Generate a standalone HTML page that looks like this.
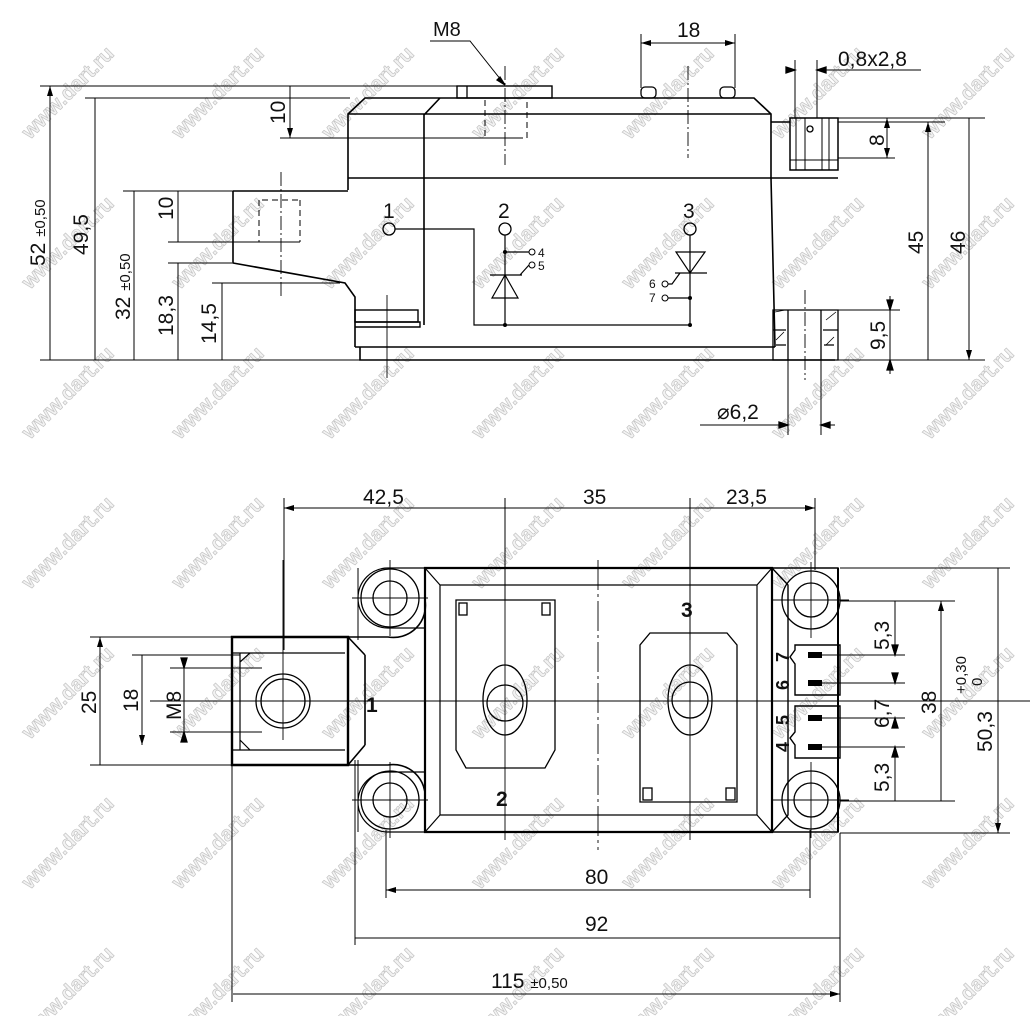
<!DOCTYPE html>
<html><head><meta charset="utf-8"><style>
html,body{margin:0;padding:0;background:#fff;}
svg{display:block;}
text{font-family:"Liberation Sans",sans-serif;fill:#111;}
.wm text{font-size:21px;fill:#f2f2f2;stroke:#c4c4c4;stroke-width:0.7;font-weight:bold;}
</style></head><body>
<svg width="1030" height="1016" viewBox="0 0 1030 1016" xmlns="http://www.w3.org/2000/svg">
<defs>
<marker id="a" viewBox="0 0 10 6" refX="10" refY="3" markerWidth="10" markerHeight="6" orient="auto-start-reverse" markerUnits="userSpaceOnUse"><path d="M0,0 L10,3 L0,6 z" fill="#000"/></marker>
</defs>
<!-- watermarks -->
<g class="wm">
<text transform="translate(30,140) rotate(-45)">www.dart.ru</text>
<text transform="translate(180,140) rotate(-45)">www.dart.ru</text>
<text transform="translate(330,140) rotate(-45)">www.dart.ru</text>
<text transform="translate(480,140) rotate(-45)">www.dart.ru</text>
<text transform="translate(630,140) rotate(-45)">www.dart.ru</text>
<text transform="translate(780,140) rotate(-45)">www.dart.ru</text>
<text transform="translate(930,140) rotate(-45)">www.dart.ru</text>
<text transform="translate(30,290) rotate(-45)">www.dart.ru</text>
<text transform="translate(180,290) rotate(-45)">www.dart.ru</text>
<text transform="translate(330,290) rotate(-45)">www.dart.ru</text>
<text transform="translate(480,290) rotate(-45)">www.dart.ru</text>
<text transform="translate(630,290) rotate(-45)">www.dart.ru</text>
<text transform="translate(780,290) rotate(-45)">www.dart.ru</text>
<text transform="translate(930,290) rotate(-45)">www.dart.ru</text>
<text transform="translate(30,440) rotate(-45)">www.dart.ru</text>
<text transform="translate(180,440) rotate(-45)">www.dart.ru</text>
<text transform="translate(330,440) rotate(-45)">www.dart.ru</text>
<text transform="translate(480,440) rotate(-45)">www.dart.ru</text>
<text transform="translate(630,440) rotate(-45)">www.dart.ru</text>
<text transform="translate(780,440) rotate(-45)">www.dart.ru</text>
<text transform="translate(930,440) rotate(-45)">www.dart.ru</text>
<text transform="translate(30,590) rotate(-45)">www.dart.ru</text>
<text transform="translate(180,590) rotate(-45)">www.dart.ru</text>
<text transform="translate(330,590) rotate(-45)">www.dart.ru</text>
<text transform="translate(480,590) rotate(-45)">www.dart.ru</text>
<text transform="translate(630,590) rotate(-45)">www.dart.ru</text>
<text transform="translate(780,590) rotate(-45)">www.dart.ru</text>
<text transform="translate(930,590) rotate(-45)">www.dart.ru</text>
<text transform="translate(30,740) rotate(-45)">www.dart.ru</text>
<text transform="translate(180,740) rotate(-45)">www.dart.ru</text>
<text transform="translate(330,740) rotate(-45)">www.dart.ru</text>
<text transform="translate(480,740) rotate(-45)">www.dart.ru</text>
<text transform="translate(630,740) rotate(-45)">www.dart.ru</text>
<text transform="translate(780,740) rotate(-45)">www.dart.ru</text>
<text transform="translate(930,740) rotate(-45)">www.dart.ru</text>
<text transform="translate(30,890) rotate(-45)">www.dart.ru</text>
<text transform="translate(180,890) rotate(-45)">www.dart.ru</text>
<text transform="translate(330,890) rotate(-45)">www.dart.ru</text>
<text transform="translate(480,890) rotate(-45)">www.dart.ru</text>
<text transform="translate(630,890) rotate(-45)">www.dart.ru</text>
<text transform="translate(780,890) rotate(-45)">www.dart.ru</text>
<text transform="translate(930,890) rotate(-45)">www.dart.ru</text>
<text transform="translate(30,1040) rotate(-45)">www.dart.ru</text>
<text transform="translate(180,1040) rotate(-45)">www.dart.ru</text>
<text transform="translate(330,1040) rotate(-45)">www.dart.ru</text>
<text transform="translate(480,1040) rotate(-45)">www.dart.ru</text>
<text transform="translate(630,1040) rotate(-45)">www.dart.ru</text>
<text transform="translate(780,1040) rotate(-45)">www.dart.ru</text>
<text transform="translate(930,1040) rotate(-45)">www.dart.ru</text>
</g>

<g fill="none" stroke="#000" stroke-width="1.3">
<!-- ===== TOP VIEW ===== -->
<path d="M40,86H520 M85,98H350 M280,138H520 M123,191H233 M168,242H300 M168,263H232 M212,283H340 M40,360H370" stroke-width="1"/>
<path d="M50,86V360 M95,98V360 M134,191V360 M178,263V360 M222,283V360 M178,191V242 M290,86V138" marker-start="url(#a)" marker-end="url(#a)" stroke-width="1"/>
<path d="M348,190V114L365,98H754L771,114V178 M348,114H771 M424,325V115L440,98" stroke-width="1.6"/>
<path d="M348,178H838 M233,191H348 M233,191V263L345,283L355,297V347 M355,347H775 M360,347V360H835 M771,178L775,347" stroke-width="1.6"/>
<rect x="355" y="310" width="63" height="12" stroke-width="1.4"/>
<path d="M355,322H420V327H355" stroke-width="1.4"/>
<path d="M259,200V242 M300,200V242 M262,200H300 M262,242H300" stroke-dasharray="6,4" stroke-width="1"/>
<path d="M281,172V298" stroke-dasharray="14,3,2,3" stroke-width="0.9"/>
<path d="M387,295V378" stroke-width="0.9"/>
<rect x="457" y="86" width="95" height="12" stroke-width="1.4"/>
<path d="M467,86V98" />
<path d="M485,100V138H527V100" stroke-dasharray="6,4" stroke-width="1"/>
<path d="M505,66V165" stroke-dasharray="14,3,2,3" stroke-width="0.9"/>
<path d="M430,41H470L505,85" stroke-width="1"/>
<path d="M505,85l-8,-5 3,-3z" fill="#000"/>
<rect x="641" y="87" width="15" height="11" rx="4"/>
<rect x="720" y="87" width="15" height="11" rx="4"/>
<path d="M688,66V158" stroke-dasharray="14,3,2,3" stroke-width="0.9"/>
<path d="M641,34V88 M735,34V88" stroke-width="1"/>
<path d="M641,43H735" marker-start="url(#a)" marker-end="url(#a)" stroke-width="1"/>
<path d="M771,122H790 M790,118H838V170H790Z" stroke-width="1.5"/>
<path d="M796,118V170 M805,118V170 M822,118V170 M829,118V170 M790,160H838" stroke-width="1"/>
<circle cx="810" cy="129" r="3"/>
<path d="M795,60V118 M817,60V118" stroke-width="1"/>
<path d="M790,70H795 M817,70H921" stroke-width="1"/>
<path d="M795,70l-9,-3v6z M817,70l9,-3v6z" fill="#000"/>
<path d="M773,310H838V360H773Z M788,310V360 M821,310V360 M773,330H786 M823,330H838 M776,345H786 M824,345H834" stroke-width="1.3"/>
<path d="M775,312l10,-2 M826,320l10,-8 M776,340l8,-8 M826,345l8,-8" stroke-width="0.8"/>
<path d="M805,290V380" stroke-dasharray="14,3,2,3" stroke-width="0.9"/>
<path d="M788,360V435 M821,360V435" stroke-width="1"/>
<path d="M700,425H788 M821,425H835" stroke-width="1"/>
<path d="M788,425l-9,-3v6z M821,425l9,-3v6z" fill="#000"/>
<path d="M838,118H985 M838,158H895 M838,122H945 M838,310H900 M835,360H985" stroke-width="1"/>
<path d="M887,118V158" marker-start="url(#a)" marker-end="url(#a)" stroke-width="1"/>
<path d="M928,122V360 M969,118V360" marker-start="url(#a)" marker-end="url(#a)" stroke-width="1"/>
<path d="M890,296V374" stroke-width="1"/>
<path d="M890,310l-3,-10h6z M890,360l-3,10h6z" fill="#000"/>
<circle cx="389" cy="229" r="6"/>
<path d="M395,229H474V325H691" stroke-width="1.2"/>
<circle cx="505" cy="229" r="6"/>
<path d="M505,235V325 M505,252H529" stroke-width="1.2"/>
<circle cx="532" cy="252" r="3" stroke-width="1"/>
<circle cx="532" cy="265" r="3" stroke-width="1"/>
<path d="M520,275L529,265 M490,275H522 M505,275L492,298H518Z" stroke-width="1.2"/>
<circle cx="690" cy="229" r="6"/>
<path d="M690,235V325 M676,252H705L690,273Z M675,273H707 M680,273L672,284H668 M668,298H690" stroke-width="1.2"/>
<circle cx="665" cy="284" r="3" stroke-width="1"/>
<circle cx="665" cy="298" r="3" stroke-width="1"/>
</g>
<g fill="#000">
<circle cx="505" cy="252" r="2"/><circle cx="505" cy="325" r="2"/><circle cx="690" cy="325" r="2"/><circle cx="690" cy="298" r="2"/>
</g>
<g font-size="21">
<text x="433" y="36" font-size="20">M8</text>
<text x="677" y="37">18</text>
<text x="838" y="66">0,8x2,8</text>
<text x="383" y="218">1</text>
<text x="498" y="218">2</text>
<text x="683" y="218">3</text>
<text x="717" y="419">⌀6,2</text>
<text transform="translate(45,266) rotate(-90)">52 <tspan font-size="15">±0,50</tspan></text>
<text transform="translate(88,255) rotate(-90)">49,5</text>
<text transform="translate(130,320) rotate(-90)">32 <tspan font-size="15">±0,50</tspan></text>
<text transform="translate(173,220) rotate(-90)">10</text>
<text transform="translate(285,124) rotate(-90)">10</text>
<text transform="translate(173,336) rotate(-90)">18,3</text>
<text transform="translate(216,344) rotate(-90)">14,5</text>
<text transform="translate(884,146) rotate(-90)">8</text>
<text transform="translate(923,254) rotate(-90)">45</text>
<text transform="translate(965,254) rotate(-90)">46</text>
<text transform="translate(885,350) rotate(-90)">9,5</text>
</g>
<g font-size="12"><text x="538" y="257">4</text><text x="538" y="270">5</text><text x="649" y="288">6</text><text x="649" y="302">7</text></g>

<!-- ===== BOTTOM VIEW ===== -->
<g fill="none" stroke="#000" stroke-width="1.3">
<path d="M284,498V650 M505,498V600 M690,498V640 M815,498V570" stroke-width="1"/>
<path d="M284,508H505 M505,508H690 M690,508H815" marker-start="url(#a)" marker-end="url(#a)" stroke-width="1"/>
<path d="M425,568H772V832H425Z" stroke-width="2.2"/>
<path d="M440,585H757V815H440Z M425,568L440,585 M772,568L757,585 M425,832L440,815 M772,832L757,815" stroke-width="1.2"/>
<path d="M425,568H388A30,30 0 0 0 358,598A30,30 0 0 0 388,628H425 M425,568V640" stroke-width="1.2"/>
<path d="M425,832H388A30,30 0 0 1 358,802A30,30 0 0 1 388,772H425" stroke-width="1.2"/>
<path d="M348,637H388A32,32 0 0 0 425,600 M348,765H388A32,32 0 0 1 425,800 M348,637V765 M365,655V745 M348,637L365,655 M348,765L365,745" stroke-width="1.6"/>
<path d="M358,568V640 M358,760V832" stroke-width="1"/>
<path d="M772,568H838V832H772 M772,568L788,585V815L772,832" stroke-width="1.4"/>
<path d="M838,568V832" stroke-width="2"/>
<circle cx="390" cy="598" r="29"/><circle cx="390" cy="598" r="17"/>
<circle cx="390" cy="800" r="29"/><circle cx="390" cy="800" r="17"/>
<circle cx="811" cy="600" r="29"/><circle cx="811" cy="600" r="17"/>
<circle cx="811" cy="800" r="29"/><circle cx="811" cy="800" r="17"/>
<path d="M352,598H428 M390,560V636 M352,800H428 M390,762V838 M773,600H849 M811,562V638 M773,800H849 M811,762V838" stroke-width="0.9"/>
<path d="M795,645H840V695H795V664L790,657L795,650Z" stroke-width="1.4"/>
<path d="M795,706H840V758H795V745L790,738L795,732Z" stroke-width="1.4"/>
<path d="M232,637H348V765H232Z" stroke-width="2.4"/>
<path d="M232,653H345 M232,750H345 M240,653V750 M240,662L250,653 M240,740L250,750" stroke-width="1.2"/>
<circle cx="283" cy="701" r="27"/><circle cx="283" cy="701" r="22"/>
<path d="M283,560V740 M150,701H1030" stroke-width="0.9"/>
<path d="M456,600H555V750L545,768H466L456,750Z" stroke-width="1.3"/>
<rect x="459" y="603" width="8" height="12"/><rect x="542" y="603" width="8" height="12"/>
<ellipse cx="505" cy="700" rx="22" ry="35"/><circle cx="505" cy="703" r="18"/>
<path d="M505,520V840" stroke-width="0.9"/>
<path d="M650,633H727L737,645V802H640V645Z" stroke-width="1.3"/>
<rect x="643" y="788" width="9" height="12"/><rect x="726" y="788" width="9" height="12"/>
<ellipse cx="690" cy="700" rx="22" ry="35"/><circle cx="690" cy="700" r="18"/>
<path d="M690,520V840" stroke-width="0.9"/>
<path d="M598,560V850" stroke-dasharray="30,4,3,4" stroke-width="0.9"/>
<path d="M90,637H232 M132,655H240 M170,668H262 M170,732H262 M90,765H232" stroke-width="1"/>
<path d="M100,637V765 M142,655V745" marker-start="url(#a)" marker-end="url(#a)" stroke-width="1"/>
<path d="M184,658V742" stroke-width="1"/>
<path d="M184,668l-3,-10h6z M184,732l-3,10h6z" fill="#000"/>
<path d="M840,568H1010 M840,601H955 M813,655H905 M813,683H905 M813,718H905 M813,747H905 M840,801H955 M840,833H1010" stroke-width="1"/>
<path d="M895,601V655 M895,747V801" stroke-width="1"/>
<path d="M895,655l-3,-10h6z M895,683l-3,-10h6z M895,718l-3,10h6z M895,747l-3,10h6z" fill="#000"/>
<path d="M941,601V801 M998,568V833" marker-start="url(#a)" marker-end="url(#a)" stroke-width="1"/>
<path d="M232,765V1002 M355,760V945 M386,830V898 M810,830V898 M840,833V1002" stroke-width="1"/>
<path d="M386,890H810 M355,938H840 M233,994H840" marker-start="url(#a)" marker-end="url(#a)" stroke-width="1"/>
</g>
<g fill="#000"><rect x="808" y="652" width="14" height="6"/><rect x="808" y="680" width="14" height="6"/><rect x="808" y="715" width="14" height="6"/><rect x="808" y="744" width="14" height="6"/></g>
<g font-size="21">
<text x="363" y="504">42,5</text>
<text x="583" y="504">35</text>
<text x="726" y="504">23,5</text>
<text x="585" y="884">80</text>
<text x="585" y="931">92</text>
<text x="491" y="988">115 <tspan font-size="15">±0,50</tspan></text>
<text x="366" y="712" font-weight="bold">1</text>
<text x="496" y="806" font-weight="bold">2</text>
<text x="681" y="617" font-weight="bold">3</text>
<text transform="translate(96,714) rotate(-90)">25</text>
<text transform="translate(138,712) rotate(-90)">18</text>
<text transform="translate(181,720) rotate(-90)">M8</text>
<text transform="translate(889,650) rotate(-90)">5,3</text>
<text transform="translate(889,728) rotate(-90)">6,7</text>
<text transform="translate(889,792) rotate(-90)">5,3</text>
<text transform="translate(936,714) rotate(-90)">38</text>
<text transform="translate(992,752) rotate(-90)">50,3</text>
<text transform="translate(966,694) rotate(-90)" font-size="15">+0,30</text>
<text transform="translate(982,686) rotate(-90)" font-size="15">0</text>
<g font-weight="bold" font-size="18">
<text transform="translate(789,662) rotate(-90)">7</text>
<text transform="translate(789,690) rotate(-90)">6</text>
<text transform="translate(789,725) rotate(-90)">5</text>
<text transform="translate(789,752) rotate(-90)">4</text>
</g>
</g>
</svg>
</body></html>
